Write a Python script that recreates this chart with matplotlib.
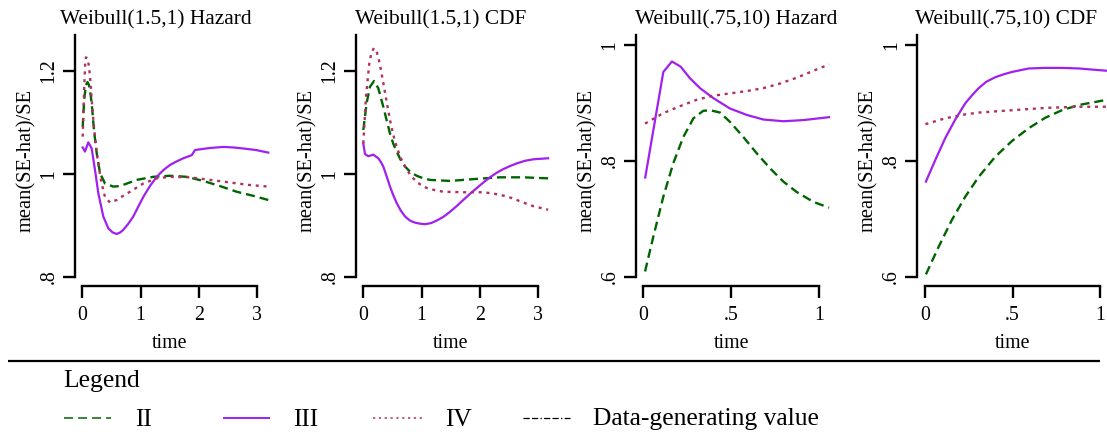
import matplotlib
matplotlib.use('Agg')
import matplotlib.pyplot as plt
from matplotlib.lines import Line2D

plt.rcParams['font.family'] = ['Liberation Serif', 'DejaVu Serif']
plt.rcParams['lines.scale_dashes'] = False

# ---------------- data ----------------
titles = ["Weibull(1.5,1) Hazard", "Weibull(1.5,1) CDF",
          "Weibull(.75,10) Hazard", "Weibull(.75,10) CDF"]
series_names = ["II", "III", "IV", "Data-generating value"]

# Panel 1: Weibull(1.5,1) Hazard
p1_t_II = [0.007, 0.03, 0.06, 0.09, 0.115, 0.14, 0.161, 0.2, 0.247, 0.304, 0.389, 0.532,
           0.647, 0.933, 1.218, 1.504, 1.79, 2.075, 2.362, 2.648, 2.933, 3.19]
p1_II = [1.091, 1.14, 1.172, 1.178, 1.172, 1.155, 1.137, 1.085, 1.040, 1.001, 0.981, 0.975,
         0.976, 0.988, 0.994, 0.996, 0.994, 0.986, 0.976, 0.965, 0.957, 0.949]
p1_t_III = [0.007, 0.046, 0.103, 0.161, 0.218, 0.275, 0.36, 0.446, 0.52, 0.59, 0.65, 0.703,
            0.79, 0.875, 0.96, 1.046, 1.16, 1.276, 1.39, 1.504, 1.62, 1.732, 1.876, 1.90, 1.933,
            2.06, 2.19, 2.42, 2.59, 2.76, 2.98, 3.19]
p1_III = [1.051, 1.043, 1.061, 1.049, 1.007, 0.962, 0.917, 0.894, 0.886, 0.883, 0.886, 0.891,
          0.903, 0.917, 0.936, 0.955, 0.976, 0.994, 1.007, 1.017, 1.024, 1.030, 1.036, 1.040,
          1.046, 1.048, 1.050, 1.052, 1.051, 1.049, 1.046, 1.041]
p1_t_IV = [0.007, 0.03, 0.05, 0.063, 0.09, 0.115, 0.132, 0.149, 0.166, 0.189, 0.218, 0.247,
           0.292, 0.332, 0.389, 0.475, 0.59, 0.70, 0.818, 1.046, 1.276, 1.504, 1.847, 2.19,
           2.533, 2.876, 3.19]
p1_IV = [1.072, 1.16, 1.215, 1.226, 1.224, 1.208, 1.188, 1.163, 1.137, 1.104, 1.072, 1.040,
         1.007, 0.981, 0.955, 0.944, 0.949, 0.957, 0.965, 0.981, 0.991, 0.994, 0.993, 0.988,
         0.983, 0.978, 0.975]

# Panel 2: Weibull(1.5,1) CDF
p2_t_II = [0.0, 0.057, 0.115, 0.184, 0.257, 0.343, 0.40, 0.458, 0.515, 0.573, 0.64, 0.715,
           0.81, 0.916, 1.03, 1.144, 1.487, 1.945, 2.345, 2.744, 3.17]
p2_II = [1.085, 1.137, 1.169, 1.180, 1.166, 1.130, 1.104, 1.078, 1.058, 1.043, 1.027, 1.014,
         1.003, 0.996, 0.991, 0.988, 0.986, 0.990, 0.993, 0.993, 0.991]
p2_t_III = [0.0, 0.029, 0.086, 0.172, 0.257, 0.30, 0.343, 0.40, 0.458, 0.515, 0.573, 0.64,
            0.715, 0.80, 0.887, 0.97, 1.058, 1.16, 1.259, 1.37, 1.487, 1.60, 1.715, 1.83,
            1.945, 2.06, 2.173, 2.29, 2.401, 2.52, 2.631, 2.77, 2.916, 3.04, 3.17]
p2_III = [1.059, 1.038, 1.034, 1.037, 1.030, 1.023, 1.014, 0.995, 0.975, 0.958, 0.943, 0.929,
          0.917, 0.909, 0.905, 0.903, 0.902, 0.904, 0.909, 0.916, 0.926, 0.937, 0.949, 0.961,
          0.972, 0.983, 0.993, 1.002, 1.009, 1.015, 1.020, 1.025, 1.028, 1.029, 1.030]
p2_t_IV = [0.0, 0.046, 0.103, 0.14, 0.184, 0.22, 0.257, 0.30, 0.343, 0.40, 0.458, 0.515,
           0.573, 0.64, 0.715, 0.81, 0.916, 1.03, 1.144, 1.372, 1.715, 2.058, 2.2, 2.345,
           2.49, 2.631, 2.77, 2.916, 3.17]
p2_IV = [1.059, 1.150, 1.214, 1.236, 1.244, 1.240, 1.227, 1.203, 1.176, 1.140, 1.104, 1.075,
         1.052, 1.031, 1.014, 0.997, 0.984, 0.975, 0.970, 0.965, 0.964, 0.964, 0.962, 0.959,
         0.955, 0.949, 0.943, 0.937, 0.930]

# Panel 3: Weibull(.75,10) Hazard
p3_t_II = [0.01, 0.057, 0.114, 0.171, 0.228, 0.285, 0.341, 0.380, 0.437, 0.493, 0.569, 0.645,
           0.721, 0.797, 0.873, 0.968, 1.057]
p3_II = [0.609, 0.669, 0.738, 0.796, 0.841, 0.873, 0.886, 0.887, 0.883, 0.867, 0.841, 0.813,
         0.787, 0.764, 0.746, 0.729, 0.719]
p3_t_III = [0.011, 0.114, 0.163, 0.213, 0.266, 0.323, 0.398, 0.493, 0.588, 0.683, 0.797,
            0.911, 1.057]
p3_III = [0.771, 0.953, 0.971, 0.962, 0.942, 0.925, 0.908, 0.890, 0.879, 0.871, 0.868,
          0.870, 0.875]
p3_t_IV = [0.01, 0.114, 0.209, 0.304, 0.398, 0.493, 0.588, 0.683, 0.778, 0.873, 0.968, 1.057]
p3_IV = [0.864, 0.882, 0.894, 0.905, 0.912, 0.916, 0.920, 0.925, 0.933, 0.943, 0.955, 0.966]

# Panel 4: Weibull(.75,10) CDF
p4_t_II = [0.007, 0.08, 0.155, 0.231, 0.307, 0.402, 0.497, 0.592, 0.686, 0.781, 0.877, 1.038]
p4_II = [0.604, 0.652, 0.698, 0.738, 0.772, 0.807, 0.834, 0.856, 0.874, 0.887, 0.896, 0.905]
p4_t_III = [0.007, 0.06, 0.117, 0.174, 0.231, 0.27, 0.307, 0.35, 0.402, 0.45, 0.497, 0.592,
            0.686, 0.781, 0.877, 1.038]
p4_III = [0.764, 0.801, 0.839, 0.871, 0.899, 0.913, 0.925, 0.936, 0.944, 0.949, 0.953, 0.959,
          0.960, 0.960, 0.959, 0.955]
p4_t_IV = [0.004, 0.117, 0.212, 0.307, 0.497, 0.686, 0.877, 1.038]
p4_IV = [0.863, 0.873, 0.879, 0.883, 0.887, 0.891, 0.893, 0.893]

xticks_a = [0, 1, 2, 3]
xticklabels_a = ["0", "1", "2", "3"]
xticks_b = [0, 0.5, 1]
xticklabels_b = ["0", ".5", "1"]
yticks_a = [0.8, 1.0, 1.2]
yticklabels_a = [".8", "1", "1.2"]
yticks_b = [0.6, 0.8, 1.0]
yticklabels_b = [".6", ".8", "1"]

# ---------------- styles ----------------
W, H, DPI = 1107, 438, 100
C_II, C_III, C_IV = '#006400', '#A020F0', '#B03060'
sty = {
    'II': dict(color=C_II, lw=1.7, dashes=(6.5, 3.6), dash_capstyle='butt'),
    'III': dict(color=C_III, lw=1.6, ls='-'),
    'IV': dict(color=C_IV, lw=1.7, dashes=(2.2, 3.4), dash_capstyle='butt'),
}

fig = plt.figure(figsize=(W / DPI, H / DPI), dpi=DPI)

# background axes in pixel coordinates for legend / separator
bg = fig.add_axes([0, 0, 1, 1], zorder=-1)
bg.set_xlim(0, W)
bg.set_ylim(H, 0)
bg.axis('off')

panels = [
    dict(left=82.3, xmax=3.185, pxu=58.3, data=[(p1_t_II, p1_II), (p1_t_III, p1_III), (p1_t_IV, p1_IV)],
         ylim=(0.8, 1.2694), xt=xticks_a, xtl=xticklabels_a, yt=yticks_a, ytl=yticklabels_a,
         xb=(0, 3), tx=155.8),
    dict(left=363.3, xmax=3.185, pxu=58.3, data=[(p2_t_II, p2_II), (p2_t_III, p2_III), (p2_t_IV, p2_IV)],
         ylim=(0.8, 1.2694), xt=xticks_a, xtl=xticklabels_a, yt=yticks_a, ytl=yticklabels_a,
         xb=(0, 3), tx=440.5),
    dict(left=643.3, xmax=1.055, pxu=175.7, data=[(p3_t_II, p3_II), (p3_t_III, p3_III), (p3_t_IV, p3_IV)],
         ylim=(0.6, 1.0167), xt=xticks_b, xtl=xticklabels_b, yt=yticks_b, ytl=yticklabels_b,
         xb=(0, 1), tx=736.0),
    dict(left=924.7, xmax=1.055, pxu=175.7, data=[(p4_t_II, p4_II), (p4_t_III, p4_III), (p4_t_IV, p4_IV)],
         ylim=(0.6, 1.0167), xt=xticks_b, xtl=xticklabels_b, yt=yticks_b, ytl=yticklabels_b,
         xb=(0, 1), tx=1006.5),
]

top_px, bot_px = 35.0, 276.7
for i, p in enumerate(panels):
    wpx = p['xmax'] * p['pxu']
    ax = fig.add_axes([p['left'] / W, 1 - bot_px / H, wpx / W, (bot_px - top_px) / H])
    ax.patch.set_alpha(0)
    for (t, v), key in zip(p['data'], ['II', 'III', 'IV']):
        ax.plot(t, v, **sty[key], clip_on=False)
    ax.set_xlim(0, p['xmax'])
    ax.set_ylim(*p['ylim'])
    for s in ['top', 'right']:
        ax.spines[s].set_visible(False)
    ax.spines['left'].set_position(('outward', 5.2))
    ax.spines['bottom'].set_position(('outward', 6.8))
    ax.spines['left'].set_linewidth(1.7)
    ax.spines['bottom'].set_linewidth(1.7)
    ax.spines['bottom'].set_bounds(*p['xb'])
    ax.spines['bottom'].set_capstyle('projecting')
    ax.set_xticks(p['xt'])
    ax.set_xticklabels(p['xtl'])
    ax.set_yticks(p['yt'])
    ax.set_yticklabels(p['ytl'], rotation=90, va='center')
    ax.tick_params(axis='both', length=8.4, width=1.7, labelsize=14.3, color='black')
    ax.tick_params(axis='x', pad=6.0)
    ax.tick_params(axis='y', pad=3.5)
    spine_x = p['left'] - 7.2
    # y label
    fig.text((spine_x - 49) / W, 1 - 160.8 / H, "mean(SE-hat)/SE", rotation=90,
             ha='center', va='center', fontsize=14.8)
    # x label
    x0px = p['left'] + p['xb'][0] * p['pxu']
    x1px = p['left'] + p['xb'][1] * p['pxu']
    fig.text((x0px + x1px) / 2 / W, 1 - 348 / H, "time", ha='center', va='baseline',
             fontsize=14.3)
    # title
    fig.text(p['tx'] / W, 1 - 24.3 / H, titles[i], ha='center', va='baseline', fontsize=15.4)

# separator line
bg.plot([8.3, 1100], [361, 361], color='black', lw=1.6, solid_capstyle='butt')
bg.text(63, 387.3, "Legend", fontsize=18.4, ha='left', va='baseline')

leg_y = 418
leg_items = [
    (64, 111, 135, dict(color=C_II, lw=1.1, dashes=(6.5, 3.6))),
    (222.7, 270, 293, dict(color=C_III, lw=1.4, ls='-')),
    (372.7, 421.7, 445, dict(color=C_IV, lw=1.1, dashes=(1.6, 2.6))),
    (523, 570, 593.3, dict(color='black', lw=0.9, dashes=(4.5, 1.6, 4.5, 1.6, 1.0, 1.6))),
]
for (xa, xb_, xt, st), name in zip(leg_items, series_names):
    bg.add_line(Line2D([xa, xb_], [leg_y, leg_y], solid_capstyle='butt', dash_capstyle='butt', **st))
    bg.text(xt, 425.5, name, fontsize=18.4, ha='left', va='baseline')

fig.savefig('out.png', dpi=DPI)
